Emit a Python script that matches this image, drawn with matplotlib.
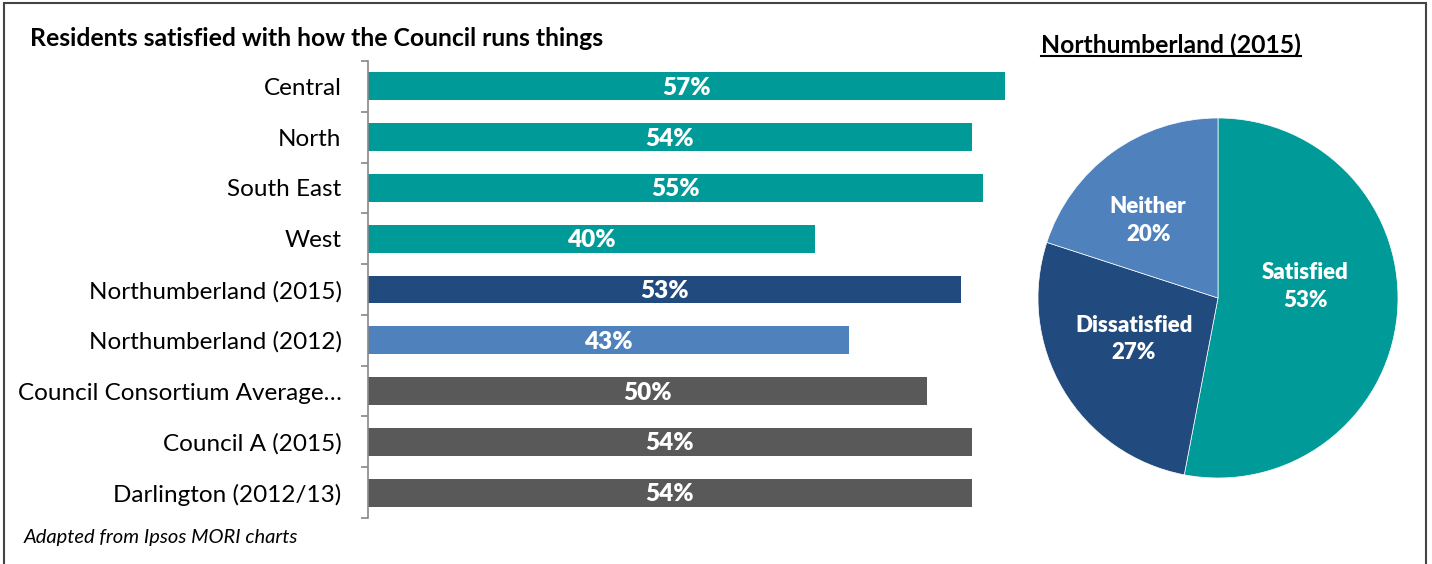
import matplotlib.pyplot as plt
from matplotlib.patches import Rectangle
from matplotlib.lines import Line2D
import numpy as np

plt.rcParams['font.family'] = ['Lato', 'DejaVu Sans']

# bar data
categories = ['Central', 'North', 'South East', 'West', 'Northumberland (2015)',
              'Northumberland (2012)', 'Council Consortium Average…',
              'Council A (2015)', 'Darlington (2012/13)']
values = [57, 54, 55, 40, 53, 43, 50, 54, 54]
bar_colors = ['#009B98', '#009B98', '#009B98', '#009B98', '#214A7E',
              '#4F81BD', '#595959', '#595959', '#595959']

# pie data
pie_labels = ['Satisfied', 'Dissatisfied', 'Neither']
pie_values = [53, 27, 20]
pie_colors = ['#009B98', '#214A7E', '#4F81BD']

W, H = 1432, 564
fig = plt.figure(figsize=(W / 100, H / 100), dpi=100)

# bar chart
ax = fig.add_axes([368 / W, 1 - 518 / H, 671 / W, 457 / H])
y = np.arange(len(categories))
ax.barh(y, values, height=0.55, color=bar_colors)
for yi, v in zip(y, values):
    ax.text(v / 2, yi + 0.03, f'{v}%', ha='center', va='center', color='white',
            fontsize=17.5, fontweight='heavy')
ax.set_xlim(0, 60)
ax.set_ylim(len(categories) - 0.5, -0.5)
ax.set_yticks(y)
ax.set_yticklabels(categories, fontsize=17.5)
ax.set_yticks(np.arange(-0.5, len(categories)), minor=True)
ax.tick_params(axis='y', which='major', length=0, pad=19)
ax.tick_params(axis='y', which='minor', length=5, color='#888888', width=1.2)
ax.set_xticks([])
for s in ['top', 'right', 'bottom']:
    ax.spines[s].set_visible(False)
ax.spines['left'].set_color('#888888')
ax.spines['left'].set_linewidth(1.2)

fig.text(30 / W, 1 - 38 / H, 'Residents satisfied with how the Council runs things',
         fontsize=17.8, fontweight='bold', va='center', ha='left')
fig.text(24 / W, 1 - 537 / H, 'Adapted from Ipsos MORI charts',
         fontsize=14.5, style='italic', va='center', ha='left')

# pie chart
pax = fig.add_axes([1038 / W, 1 - 478 / H, 360 / W, 360 / H])
wedges, _ = pax.pie(pie_values, colors=pie_colors, startangle=90, counterclock=False,
                    radius=1, wedgeprops=dict(linewidth=0.5, edgecolor='white'))
label_r = [0.49, 0.52, 0.58]
label_shift = [13, -4.6, 6]  # degrees off the wedge middle
for w, lab, v, r, sh in zip(wedges, pie_labels, pie_values, label_r, label_shift):
    ang = np.deg2rad((w.theta1 + w.theta2) / 2 + sh)
    pax.text(r * np.cos(ang), r * np.sin(ang), f'{lab}\n{v}%', ha='center', va='center',
             color='white', fontsize=16, fontweight='heavy', linespacing=1.4)
pax.set_xlim(-1, 1)
pax.set_ylim(-1, 1)
pax.set_aspect('equal')
pax.axis('off')

t = fig.text(1171 / W, 1 - 45 / H, 'Northumberland (2015)', fontsize=17.8,
             fontweight='bold', ha='center', va='center')
fig.canvas.draw()
bb = t.get_window_extent().transformed(fig.transFigure.inverted())
fig.add_artist(Line2D([bb.x0, bb.x1], [bb.y0 + 0.002, bb.y0 + 0.002],
                      transform=fig.transFigure, color='black', linewidth=1.5))

# outer frame
fig.add_artist(Rectangle((4 / W, -0.02), 1422 / W, 1.02 - 3 / H, transform=fig.transFigure,
                         fill=False, edgecolor='#444444', linewidth=1.5))

fig.savefig('out.png', dpi=100)
